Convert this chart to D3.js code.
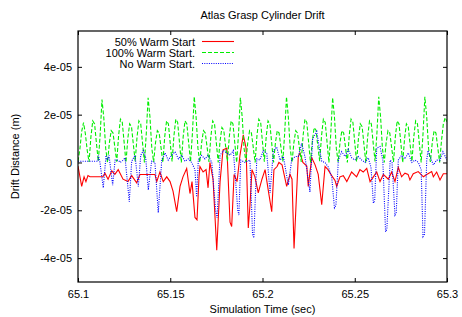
<!DOCTYPE html>
<html><head><meta charset="utf-8">
<script src="https://cdn.jsdelivr.net/npm/d3@7"></script>
<style>
html,body{margin:0;padding:0;background:#fff;}
svg{display:block;font-family:"Liberation Sans",Arial,sans-serif;font-size:11px;}
</style></head><body>
<svg id="chart" width="462" height="317"></svg>
<script>
// ---- data (drift values in units of 1e-05 m) ----
const T0 = 65.1;           // start of window (s)
const UNIT = 1e-5;
const xTicks = [65.1, 65.15, 65.2, 65.25, 65.3];
const xTickLabels = ['65.1', '65.15', '65.2', '65.25', '65.3'];
const yTicks = [-4e-5, -2e-5, 0, 2e-5, 4e-5];
const yTickLabels = ['-4e-05', '-2e-05', '0', '2e-05', '4e-05'];
const seriesNames = ['50% Warm Start', '100% Warm Start.', 'No Warm Start.'];

// 50% warm start: [ms after 65.1, value]
const warm50 = [[0,-0.15],[2.0,-1.0],[3.3,-0.6],[4.3,-0.8],[5.4,-0.55],[6.5,-0.6],[13.5,-0.6],[14.6,-0.45],[16.3,-0.7],[18.3,-0.35],
  [20.0,-0.5],[21.8,-0.3],[24.4,-0.7],[27.1,-0.8],[29.1,-0.55],[31.8,-0.85],[33.6,-0.5],[41.7,-0.5],[42.7,-0.8],[44.4,-0.4],
  [46.2,-0.8],[48.1,-0.6],[49.9,-0.8],[51.5,-1.2],[53.5,-2.06],[55.3,-1.0],[56.9,-0.6],[58.9,-0.25],[60.7,-1.3],[61.8,-0.8],
  [63.4,-2.3],[64.5,-2.4],[65.6,-0.6],[66.1,-0.17],[67.8,-0.4],[69.4,-0.3],[70.5,-1.06],[71.5,0.0],[73.2,-0.7],[75.2,-3.67],
  [77.0,-0.8],[78.6,0.53],[80.7,0.6],[82.4,-2.5],[83.3,-2.68],[84.6,-0.5],[86.2,-0.8],[87.8,0.3],[89.6,1.16],[91.1,0.6],
  [92.3,-2.74],[93.2,-1.8],[94.3,-0.3],[95.9,-0.6],[97.7,-1.27],[99.7,-0.7],[101.4,-0.3],[103.2,-1.2],[105.0,-2.06],[106.2,-0.3],
  [107.9,-0.17],[108.9,0.0],[110.6,-0.1],[111.7,-0.5],[113.1,-1.0],[114.9,-0.5],[116.0,-0.7],[117.1,-3.6],[119.4,0.25],[120.3,0.4],
  [121.9,0.0],[124.0,-0.15],[124.8,-1.0],[126.7,0.2],[128.5,-0.1],[130.2,-0.5],[132.1,-1.77],[133.9,-0.17],[135.5,-0.3],[137.5,-0.55],
  [139.3,-0.75],[140.2,-1.0],[142.0,-0.6],[143.8,-0.55],[145.7,-0.8],[148.3,-0.4],[151.0,-0.6],[152.8,-0.3],[154.6,-0.4],[156.5,-0.25],
  [158.3,-0.8],[160.1,-0.6],[161.9,-0.4],[163.7,-0.8],[165.5,-0.5],[168.2,-0.7],[170.0,-0.4],[171.8,-0.8],[173.6,-0.2],[175.4,-0.6],
  [177.2,-0.45],[178.9,-0.5],[179.9,-0.73],[181.7,-0.47],[184.4,-0.38],[187.2,-0.6],[189.0,-0.5],[191.7,-0.38],[192.6,-0.6],[194.4,-0.4],
  [196.2,-0.73],[198.0,-0.47],[200,-0.47]];

// 100% warm start: one sample per ms from 65.1
const warm100 = [0.05,0.55,1.3,1.67,1.2,0.5,
  0.02,1.07,1.74,1.61,0.8, 0.05,1.15,2.63,1.85,0.6, 0.0,0.82,1.33,1.23,0.62, 0.03,1.12,1.81,1.68,0.84,
  0.0,1.0,1.62,1.5,0.75, 0.05,1.07,1.74,1.61,0.8, 0.0,1.2,2.71,1.9,0.6, 0.02,0.82,1.33,1.23,0.62,
  0.0,1.07,1.74,1.61,0.8, 0.04,1.12,1.81,1.68,0.84, 0.0,1.07,1.74,1.61,0.8, 0.03,1.2,2.75,1.9,0.6,
  0.0,0.82,1.33,1.23,0.62, 0.02,1.07,1.74,1.61,0.8, 0.0,0.9,1.46,1.35,0.68, 0.05,1.07,1.74,1.61,0.8,
  0.0,1.2,2.71,1.9,0.6, 0.02,0.82,1.33,1.23,0.62, 0.0,1.12,1.81,1.68,0.84, 0.03,1.07,1.74,1.61,0.8,
  0.0,0.82,1.33,1.23,0.62, 0.04,1.2,2.75,1.9,0.6, 0.0,0.82,1.33,1.23,0.62, 0.02,1.12,1.81,1.68,0.84,
  0.0,0.9,1.46,1.35,0.68, 0.05,1.12,1.81,1.68,0.84, 0.0,1.2,2.71,1.9,0.6, 0.02,0.82,1.33,1.23,0.62,
  0.0,1.12,1.81,1.68,0.84, 0.03,1.0,1.62,1.5,0.75, 0.0,1.07,1.74,1.61,0.8, 0.04,1.2,2.75,1.9,0.6,
  0.0,0.82,1.33,1.23,0.62, 0.02,1.07,1.74,1.61,0.8, 0.0,1.0,1.62,1.5,0.75, 0.05,1.07,1.74,1.61,0.8,
  0.0,1.2,2.75,1.9,0.6, 0.02,0.82,1.33,1.23,0.62, 0.0,0.9,1.6,1.87,1.7];

// no warm start: [ms after 65.1, value]
const warm0 = [[0,0.05],[10.8,0.05],[11.0,0.3],[11.9,0.0],[13.7,-1.06],[15.2,0.3],[16.0,0.1],[16.8,0.3],[18.8,-0.95],[20.1,0.1],
  [21.8,0.1],[22.8,0.0],[24.6,0.1],[25.5,0.2],[27.8,-1.64],[29.1,0.05],[30.9,0.3],[32.7,-1.0],[34.0,0.3],[35.4,0.5],
  [36.7,0.2],[38.1,-1.15],[39.9,0.05],[41.7,0.0],[43.5,-2.1],[45.4,0.1],[47.2,0.4],[48.9,0.1],[50.8,0.3],[52.6,0.45],
  [54.4,0.15],[56.2,0.3],[58.0,0.05],[59.8,0.15],[61.6,0.0],[63.4,-0.3],[64.3,-1.44],[65.2,0.1],[67.0,0.3],[68.8,0.15],
  [70.5,0.3],[72.5,0.0],[74.6,-2.0],[75.4,-2.32],[77.0,0.3],[78.8,0.5],[80.6,0.4],[82.4,0.3],[84.2,0.5],[86.6,-2.0],
  [87.2,-2.2],[88.2,0.1],[90.5,0.0],[93.2,0.1],[94.6,-3.0],[95.3,-3.16],[96.9,0.15],[98.6,0.1],[100.4,0.5],[102.3,0.4],
  [104.1,-1.27],[105.9,0.5],[107.7,0.65],[109.5,0.1],[111.3,0.25],[114.0,-0.95],[115.8,0.1],[117.6,0.25],[119.4,0.25],[121.2,0.8],
  [123.0,0.25],[125.7,-1.23],[127.2,1.0],[129.4,1.3],[130.8,0.6],[132.1,0.05],[133.9,0.0],[135.7,-0.2],[137.5,-0.6],[139.0,-1.9],
  [139.8,-1.8],[141.1,0.1],[142.9,0.45],[144.8,0.25],[146.5,0.55],[148.3,0.2],[150.1,0.1],[151.9,0.25],[153.8,0.1],[155.6,0.0],
  [157.3,0.2],[158.8,-0.2],[160.1,-1.7],[160.8,-1.6],[161.9,0.6],[163.7,0.67],[165.2,0.1],[166.7,-2.9],[167.4,-2.8],[169.2,0.1],
  [170.2,0.0],[171.8,-2.2],[172.5,-2.1],[173.6,0.1],[175.4,0.3],[177.2,0.15],[179.0,0.4],[180.9,0.0],[182.7,0.1],[184.5,0.0],
  [186.0,-0.3],[187.0,-3.1],[187.8,-3.0],[189.0,0.1],[189.7,0.5],[190.8,0.25],[192.6,-0.1],[194.4,0.1],[196.2,0.1],[197.8,0.45],
  [200,0.1]];

// ---- layout ----
const W = 462, H = 317;
const M = {left:78, right:15, top:31, bottom:35};
const svg = d3.select('#chart');
const x = d3.scaleLinear([65.1, 65.3], [M.left, W - M.right]);
const y = d3.scaleLinear([-5e-5, 5.5e-5], [H - M.bottom, M.top]);

svg.append('defs').append('clipPath').attr('id','plot')
  .append('rect').attr('x',M.left).attr('y',M.top)
  .attr('width',x.range()[1]-M.left).attr('height',y.range()[0]-M.top);

// axes, ticks pointing inward, mirrored on top/right
const TK = 4;
const fx = d3.scaleOrdinal(xTicks, xTickLabels), fy = d3.scaleOrdinal(yTicks, yTickLabels);
const ax = (g)=>{ g.select('.domain').remove(); g.selectAll('line').attr('stroke','#000'); g.selectAll('text').attr('fill','#000').style('font-size','11px'); };
svg.append('g').attr('transform',`translate(0,${y.range()[0]})`)
  .call(d3.axisBottom(x).tickValues(xTicks).tickSize(-TK).tickPadding(8).tickFormat(fx)).call(ax);
svg.append('g').attr('transform',`translate(0,${M.top})`)
  .call(d3.axisTop(x).tickValues(xTicks).tickSize(-TK).tickFormat('')).call(ax);
svg.append('g').attr('transform',`translate(${M.left},0)`)
  .call(d3.axisLeft(y).tickValues(yTicks).tickSize(-TK).tickPadding(6).tickFormat(fy)).call(ax);
svg.append('g').attr('transform',`translate(${x.range()[1]},0)`)
  .call(d3.axisRight(y).tickValues(yTicks).tickSize(-TK).tickFormat('')).call(ax);

// series
const tx = ms => x(T0 + ms/1000);
const line = d3.line().x(d=>tx(d[0])).y(d=>y(d[1]*UNIT));
const series = [
  {name:seriesNames[0], pts:warm50, color:'#ff0000', dash:null},
  {name:seriesNames[1], pts:warm100.map((v,i)=>[i, v]), color:'#00ee00', dash:'4,2'},
  {name:seriesNames[2], pts:warm0, color:'#0000ff', dash:'1,1.3'}
];
const plot = svg.append('g').attr('clip-path','url(#plot)');
series.forEach(s=>{
  plot.append('path').attr('d', line(s.pts)).attr('fill','none')
    .attr('stroke', s.color).attr('stroke-width',1.1)
    .attr('stroke-dasharray', s.dash);
});

// border
svg.append('rect').attr('x',M.left).attr('y',M.top)
  .attr('width',x.range()[1]-M.left).attr('height',y.range()[0]-M.top)
  .attr('fill','none').attr('stroke','#000').attr('stroke-width',1.2);

// legend
const lg = svg.append('g');
series.forEach((s,i)=>{
  const ly = 41.5 + i*11;
  lg.append('text').attr('x',195).attr('y',ly+4).attr('text-anchor','end').text(s.name);
  lg.append('line').attr('x1',202).attr('x2',234).attr('y1',ly).attr('y2',ly)
    .attr('stroke',s.color).attr('stroke-width',1.1).attr('stroke-dasharray',s.dash);
});

// titles
svg.append('text').attr('x',(M.left + x.range()[1])/2).attr('y',19).attr('text-anchor','middle').text('Atlas Grasp Cylinder Drift');
svg.append('text').attr('x',(M.left + x.range()[1])/2).attr('y',313).attr('text-anchor','middle').text('Simulation Time (sec)');
svg.append('text').attr('transform',`translate(19,${(M.top + y.range()[0])/2}) rotate(-90)`)
  .attr('text-anchor','middle').text('Drift Distance (m)');
</script>
</body></html>
